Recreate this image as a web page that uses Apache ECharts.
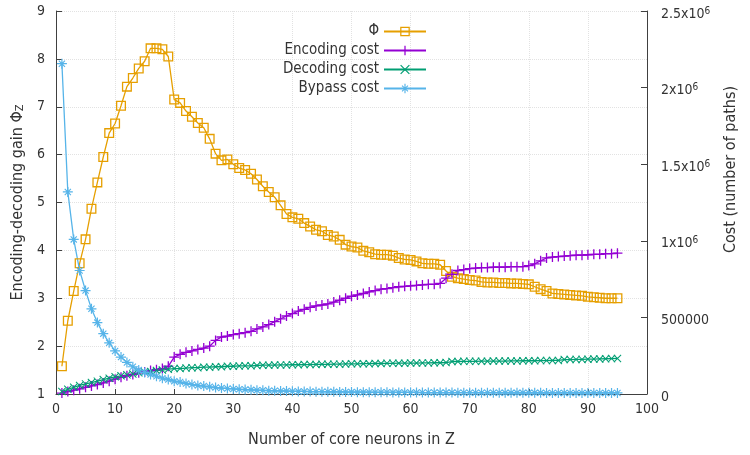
<!DOCTYPE html>
<html><head><meta charset="utf-8">
<script src="https://cdn.jsdelivr.net/npm/echarts@6/dist/echarts.min.js"></script>
<style>html,body{margin:0;padding:0;background:#fff}#c{width:750px;height:455px}</style>
</head><body><div id="c"></div>
<script>
const neurons = [1,2,3,4,5,6,7,8,9,10,11,12,13,14,15,16,17,18,19,20,21,22,23,24,25,26,27,28,29,30,31,32,33,34,35,36,37,38,39,40,41,42,43,44,45,46,47,48,49,50,51,52,53,54,55,56,57,58,59,60,61,62,63,64,65,66,67,68,69,70,71,72,73,74,75,76,77,78,79,80,81,82,83,84,85,86,87,88,89,90,91,92,93,94,95];
const phiGain = [1.58,2.53,3.15,3.73,4.23,4.87,5.42,5.95,6.45,6.65,
7.02,7.42,7.6,7.8,7.95,8.22,8.22,8.2,8.05,7.15,
7.08,6.91,6.79,6.66,6.56,6.33,6.02,5.88,5.9,5.8,
5.72,5.68,5.6,5.48,5.34,5.22,5.11,4.94,4.76,4.69,
4.66,4.57,4.5,4.43,4.4,4.32,4.29,4.22,4.12,4.08,
4.06,3.99,3.96,3.92,3.91,3.91,3.89,3.84,3.81,3.8,
3.77,3.73,3.72,3.72,3.7,3.57,3.45,3.42,3.4,3.38,
3.37,3.34,3.33,3.33,3.32,3.32,3.31,3.31,3.3,3.29,
3.24,3.19,3.15,3.1,3.09,3.08,3.07,3.06,3.05,3.03,
3.02,3.01,3.0,3.0,3.0];
const encodingCost = [6000,16000,25000,34000,44000,53000,62000,72000,84000,97000,
109000,119000,128000,138000,144000,153000,159000,166000,181000,241000,
259000,272000,281000,291000,300000,312000,350000,372000,378000,388000,
394000,400000,409000,425000,438000,453000,472000,491000,509000,525000,
541000,553000,566000,575000,581000,588000,600000,612000,625000,638000,
647000,656000,666000,675000,684000,688000,694000,700000,703000,706000,
709000,712000,716000,716000,722000,756000,781000,806000,812000,819000,
822000,825000,825000,828000,828000,828000,831000,831000,831000,838000,
850000,869000,888000,894000,897000,900000,903000,906000,906000,909000,
912000,912000,916000,916000,919000];
const decodingCost = [16000,31000,44000,56000,66000,75000,84000,94000,103000,112000,
119000,125000,131000,138000,144000,147000,153000,156000,162000,166000,
166000,169000,172000,172000,175000,175000,178000,178000,181000,181000,
183000,184000,184000,186000,188000,188000,189000,190000,190000,191000,
191000,192000,192000,193000,194000,194000,195000,195000,196000,197000,
197000,198000,198000,199000,199000,200000,200000,201000,201000,202000,
202000,203000,203000,204000,204000,205000,212000,212000,213000,213000,
213000,214000,214000,215000,215000,215000,216000,216000,217000,217000,
217000,218000,218000,219000,219000,225000,225000,226000,226000,227000,
228000,229000,230000,231000,232000];
const bypassCost = [2156000,1319000,1009000,806000,675000,556000,466000,394000,334000,281000,
241000,206000,178000,156000,141000,128000,116000,103000,94000,84000,
78000,69000,62000,56000,52000,47000,42000,39000,36000,33000,
31000,29000,27000,25000,24000,22000,21000,20000,19000,18000,
17000,16500,16000,15500,15000,14500,14000,13500,13000,12500,
12000,12000,11500,11500,11000,11000,10500,10500,10000,10000,
10000,9500,9500,9500,9000,9000,9000,8500,8500,8500,
8000,8000,8000,8000,8000,7500,7500,7500,7500,7500,
7500,7500,7000,7000,7000,7000,7000,7000,7000,7000,
7000,7000,7000,7000,7000];
const seriesNames = ['Φ','Encoding cost','Decoding cost','Bypass cost'];
const xTitle = 'Number of core neurons in Z';
const yLeftTitle = 'Encoding-decoding gain Φ{sub|Z}';
const yRightTitle = 'Cost (number of paths)';

const FONT = "'DejaVu Sans Condensed','DejaVu Sans',sans-serif";
const TXT = '#333';
const AX = '#404040';
const GRID = '#e2e2e2';
const pair = arr => arr.map((v, i) => [neurons[i], v]);

const SQUARE = 'path://M0,0L10,0L10,10L0,10ZM1.3,1.3L1.3,8.7L8.7,8.7L8.7,1.3Z';
const PLUS = 'path://M4.35,0H5.65V4.35H10V5.65H5.65V10H4.35V5.65H0V4.35H4.35Z';
const CROSS = 'path://M0,0.9L0.9,0L10,9.1L9.1,10ZM9.1,0L10,0.9L0.9,10L0,9.1Z';
const STAR = 'path://M4.4,0H5.6V4.4H10V5.6H5.6V10H4.4V5.6H0V4.4H4.4ZM1.5,2.3L2.3,1.5L8.5,7.7L7.7,8.5ZM7.7,1.5L8.5,2.3L2.3,8.5L1.5,7.7Z';

function mkSeries(name, data, yIdx, color, symbol, size) {
  return {
    name, type: 'line', yAxisIndex: yIdx, data: pair(data),
    symbol, symbolSize: size, showAllSymbol: true,
    lineStyle: { width: 1.3, color },
    itemStyle: { color },
    emphasis: { disabled: true },
    animation: false
  };
}

const chart = echarts.init(document.getElementById('c'), null, { renderer: 'canvas' });
const rightLabels = v => {
  if (v === 0) return '0';
  if (v === 500000) return '500000';
  return (v / 1e6) + 'x10{sup|6}';
};
chart.setOption({
  backgroundColor: '#fff',
  animation: false,
  textStyle: { fontFamily: FONT },
  grid: { left: 56, right: 103, top: 11, bottom: 61 },
  legend: {
    orient: 'vertical', align: 'right', right: 318, top: 18,
    itemWidth: 42, itemHeight: 12, itemGap: 2,
    textStyle: { fontSize: 15, color: TXT, fontFamily: FONT, lineHeight: 17 },
    data: seriesNames
  },
  xAxis: {
    type: 'value', min: 0, max: 100, interval: 10,
    axisLine: { show: true, lineStyle: { color: AX, width: 1 } },
    axisTick: { show: true, inside: true, length: 5, lineStyle: { color: AX } },
    splitLine: { show: true, lineStyle: { type: 'dotted', color: GRID, width: 1 } },
    axisLabel: { margin: 8, fontSize: 14, color: TXT, fontFamily: FONT },
    name: xTitle, nameLocation: 'middle', nameGap: 38,
    nameTextStyle: { fontSize: 16, color: TXT, fontFamily: FONT }
  },
  yAxis: [{
    type: 'value', min: 1, max: 9, interval: 1, position: 'left',
    axisLine: { show: true, lineStyle: { color: AX, width: 1 } },
    axisTick: { show: true, inside: true, length: 6, lineStyle: { color: AX } },
    splitLine: { show: true, lineStyle: { type: 'dotted', color: GRID, width: 1 } },
    axisLabel: { margin: 11, fontSize: 14, color: TXT, fontFamily: FONT },
    name: yLeftTitle, nameLocation: 'middle', nameGap: 28, nameRotate: 90,
    nameTextStyle: { fontSize: 16, color: TXT, fontFamily: FONT,
      rich: { sub: { fontSize: 11, color: TXT, fontFamily: FONT, verticalAlign: 'bottom', padding: [6, 0, 0, 0] } } }
  }, {
    type: 'value', min: 0, max: 2500000, interval: 500000, position: 'right',
    axisLine: { show: true, lineStyle: { color: AX, width: 1 } },
    axisTick: { show: true, inside: true, length: 6, lineStyle: { color: AX } },
    splitLine: { show: false },
    axisLabel: { margin: 14, fontSize: 14, color: TXT, fontFamily: FONT, formatter: rightLabels,
      padding: [6, 0, 0, 0],
      rich: { sup: { fontSize: 10, color: TXT, fontFamily: FONT, verticalAlign: 'top', padding: [0, 0, 6, 0] } } },
    name: yRightTitle, nameLocation: 'middle', nameGap: 76, nameRotate: 90,
    nameTextStyle: { fontSize: 16, color: TXT, fontFamily: FONT, padding: [0, 0, 0, 66] }
  }],
  series: [
    mkSeries(seriesNames[0], phiGain, 0, '#e69f00', SQUARE, 10),
    mkSeries(seriesNames[1], encodingCost, 1, '#9400d3', PLUS, 10),
    mkSeries(seriesNames[2], decodingCost, 1, '#009e73', CROSS, 8),
    mkSeries(seriesNames[3], bypassCost, 1, '#56b4e9', STAR, 10)
  ]
});
</script></body></html>
